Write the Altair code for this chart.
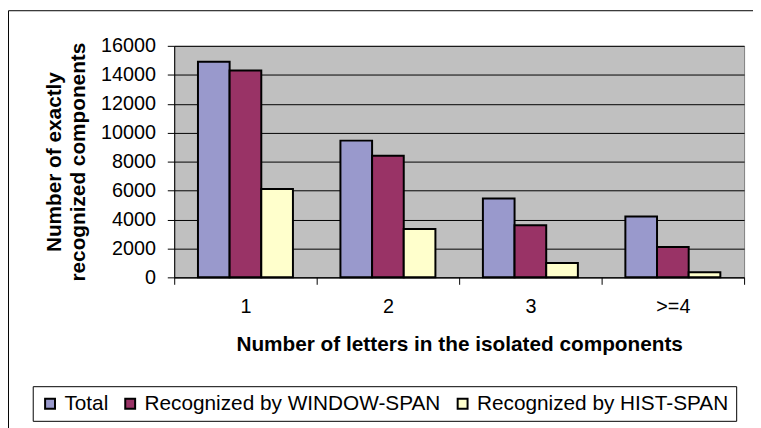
import altair as alt
import pandas as pd

categories = ["1", "2", "3", ">=4"]
series = ["Total", "Recognized by WINDOW-SPAN", "Recognized by HIST-SPAN"]
total = [14900, 9450, 5450, 4200]
window_span = [14300, 8400, 3600, 2100]
hist_span = [6100, 3350, 1000, 350]
colors = ["#9999CC", "#993366", "#FFFFCC"]

rows = []
for s, vals in zip(series, [total, window_span, hist_span]):
    for c, v in zip(categories, vals):
        rows.append({"cat": c, "series": s, "value": v})
df = pd.DataFrame(rows)

FONT = "Liberation Sans"

bars = alt.Chart(df).mark_bar(stroke="black", strokeWidth=2).encode(
    x=alt.X("cat:N", sort=categories,
            scale=alt.Scale(paddingInner=0, paddingOuter=0),
            axis=alt.Axis(title="Number of letters in the isolated components",
                          labelAngle=0, tickBand="extent", tickSize=7,
                          labelPadding=13, titlePadding=17,
                          labelFontSize=20, titleFontSize=21,
                          titleFontWeight="bold")),
    xOffset=alt.XOffset("series:N", sort=series,
                        scale=alt.Scale(paddingInner=0, paddingOuter=0.75)),
    y=alt.Y("value:Q",
            scale=alt.Scale(domain=[0, 16000], nice=False),
            axis=alt.Axis(title=["Number of exactly", "recognized components"],
                          values=list(range(0, 16001, 2000)), format="d",
                          grid=True, gridColor="black", gridWidth=1,
                          tickSize=7, labelPadding=12, titlePadding=12,
                          labelFontSize=20, titleFontSize=21,
                          titleFontWeight="bold", titleLineHeight=24)),
    color=alt.Color("series:N", sort=series,
                    scale=alt.Scale(domain=series, range=colors),
                    legend=alt.Legend(title=None, orient="none",
                                      direction="horizontal",
                                      legendX=-143, legendY=344,
                                      symbolType="square", symbolSize=100,
                                      symbolStrokeColor="black",
                                      symbolStrokeWidth=2,
                                      labelFontSize=21, labelLimit=500,
                                      labelOffset=4, columnPadding=11,
                                      padding=7, strokeColor="black",
                                      fillColor="white")),
)

border = alt.Chart(pd.DataFrame({"a": [0]})).mark_rect(
    fillOpacity=0, stroke="black", strokeWidth=1
).encode(
    x=alt.value(-167.5), x2=alt.value(700),
    y=alt.value(-35.5), y2=alt.value(500),
)

chart = alt.layer(border, bars).properties(
    width=576, height=234,
    autosize=alt.AutoSizeParams(type="none"),
    padding={"left": 168, "top": 36, "right": 9, "bottom": 150},
    background="white",
).configure_view(
    fill="#C0C0C0", stroke="#808080", strokeWidth=1
).configure_axis(
    domainColor="black", tickColor="black", labelColor="black",
    titleColor="black", labelFont=FONT, titleFont=FONT,
).configure_legend(
    labelFont=FONT, labelColor="black",
)

chart.save("out.html", embed_options={"renderer": "svg", "actions": False})
